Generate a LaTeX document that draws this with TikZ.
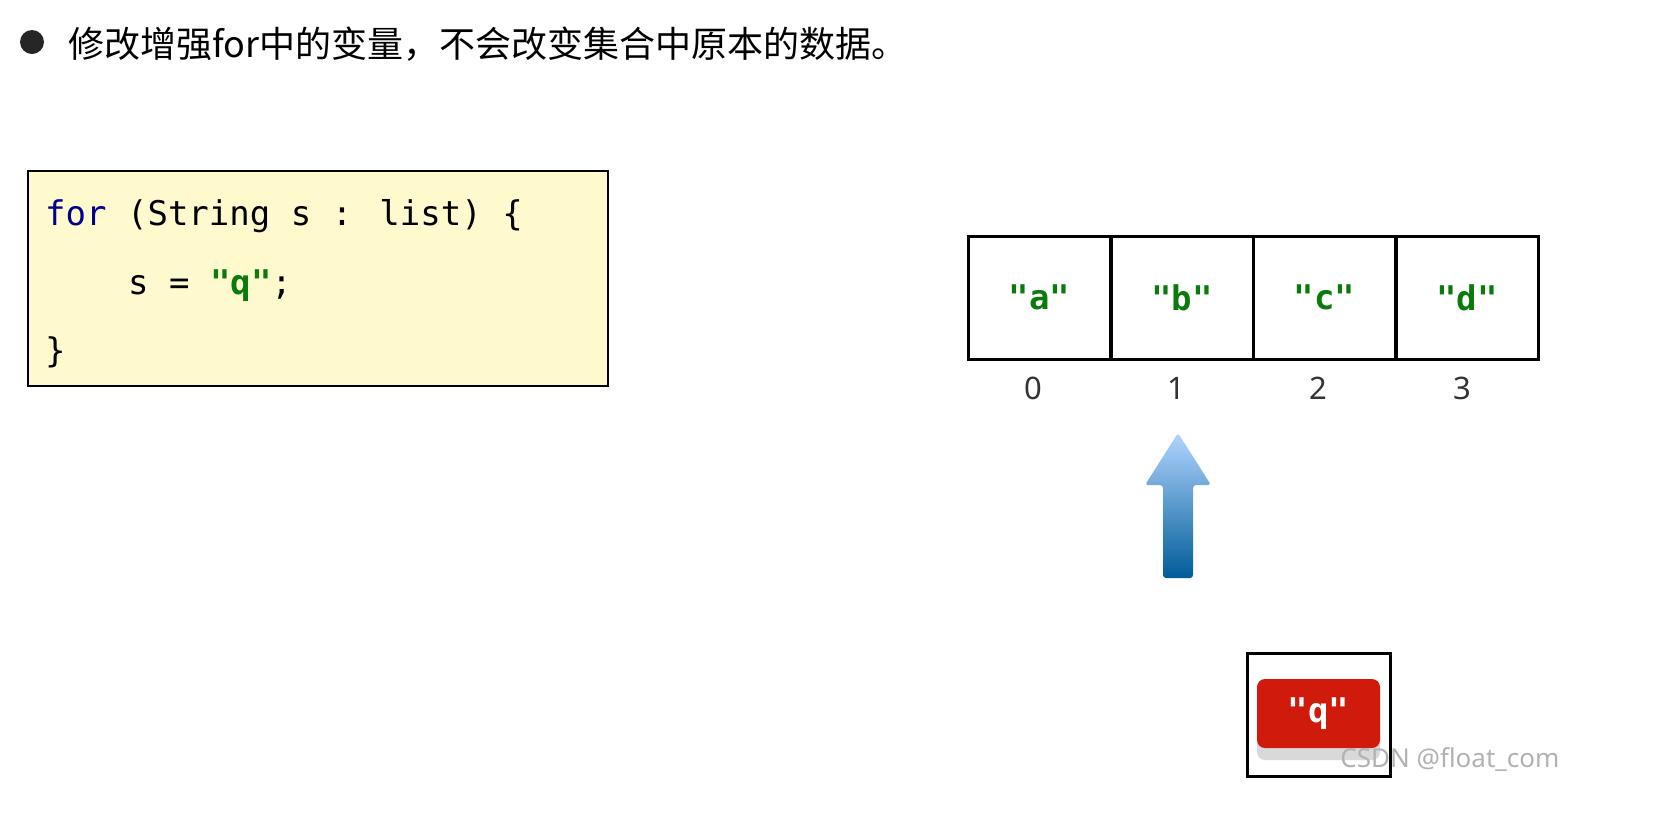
\documentclass[tikz,border=0pt]{standalone}
\usepackage{fontspec}
\setmainfont{Noto Sans}
\setmonofont{DejaVu Sans Mono}
\newfontfamily\cjk{Noto Sans CJK SC}
\newfontfamily\cellfont{DejaVu Sans Mono}
\usetikzlibrary{shadings}
\definecolor{codebg}{HTML}{FFFACD}
\definecolor{strgreen}{HTML}{0A7A0A}
\definecolor{kwblue}{HTML}{00008B}
\definecolor{qred}{HTML}{D01A0C}
\tikzset{
  cell/.style={draw=black,line width=3pt,minimum width=142pt,minimum height=123pt,inner sep=0pt,text=strgreen,font=\cellfont\bfseries\fontsize{34}{38}\selectfont},
  idx/.style={font=\fontsize{31}{34}\selectfont\color{black!80}},
  code/.style={anchor=west,font=\ttfamily\fontsize{34}{38}\selectfont,inner sep=0pt}
}
\begin{document}
\begin{tikzpicture}[x=1pt,y=-1pt]
\fill[black!85] (32,42) circle (12);
\node[anchor=west,inner sep=0pt,font=\cjk\fontsize{36}{40}\selectfont] (title) at (68,44) {修改增强for中的变量，不会改变集合中原本的数据。};
\node[draw=black,line width=1.5pt,fill=codebg,minimum width=580pt,minimum height=215pt,anchor=north west] (codebox) at (27,170) {};
\node[code] (l1) at (45,216) {\textcolor{kwblue}{for}\ (String s : list) \{};
\node[code] (l2) at (128,286) {s = \textcolor{strgreen}{\bfseries\textquotedbl q\textquotedbl};};
\node[code] (l3) at (45,352) {\}};
\node[cell] (c0) at (1039.5,297.5) {\textquotedbl a\textquotedbl};
\node[cell] (c1) at (1182,297.5) {\textquotedbl b\textquotedbl};
\node[cell] (c2) at (1324.5,297.5) {\textquotedbl c\textquotedbl};
\node[cell] (c3) at (1467,297.5) {\textquotedbl d\textquotedbl};
\node[idx] (i0) at (1033,388) {0};
\node[idx] (i1) at (1176,388) {1};
\node[idx] (i2) at (1318,388) {2};
\node[idx] (i3) at (1462,388) {3};
\shade[top color=cyan!45!blue!30!white,bottom color=cyan!60!blue!60!black,rounded corners=3pt]
  (1178,433) -- (1211,485) -- (1193,485) -- (1193,578) -- (1163,578) -- (1163,485) -- (1145,485) -- cycle;
\node[draw=black,line width=3pt,minimum width=143pt,minimum height=123pt,anchor=north west] (qbox) at (1246,652) {};
\fill[black!15,rounded corners=8pt] (1257,690) rectangle (1380,760);
\node[fill=qred,rounded corners=8pt,minimum width=123pt,minimum height=69pt,text=white,font=\cellfont\bfseries\fontsize{34}{38}\selectfont] (q) at (1318.5,713.5) {\textquotedbl q\textquotedbl};
\node[anchor=east,text=black!30,font=\fontsize{26}{30}\selectfont] (wm) at (1563,760) {CSDN @float\_com};
\pgfresetboundingbox
\path[use as bounding box] (0,0) rectangle (1653,831);
\end{tikzpicture}
\end{document}
